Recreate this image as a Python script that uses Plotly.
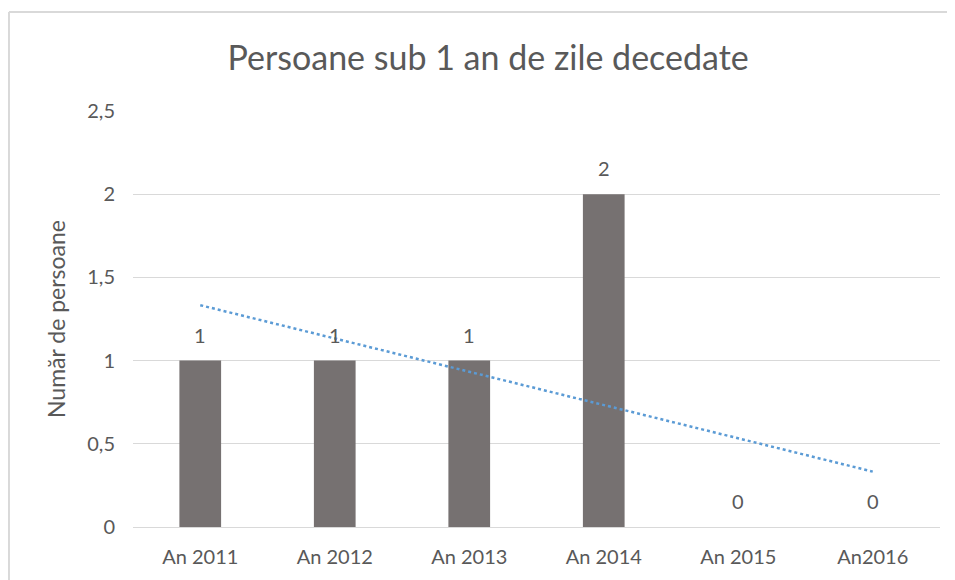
import plotly.graph_objects as go

categories = ["An 2011", "An 2012", "An 2013", "An 2014", "An 2015", "An2016"]
values = [1, 1, 1, 2, 0, 0]
trend_x = ["An 2011", "An2016"]
trend_y = [1.333, 0.333]
y_ticks = [0, 0.5, 1, 1.5, 2, 2.5]
y_tick_labels = ["0", "0,5", "1", "1,5", "2", "2,5"]

title_text = "Persoane sub 1 an de zile decedate"
y_title = "Număr de persoane"

FONT = "Lato"
TXT = "#595959"

fig = go.Figure()
fig.add_trace(go.Bar(
    x=categories, y=values,
    marker=dict(color="#767171", line=dict(width=0)),
    hoverinfo="skip",
))
fig.add_trace(go.Scatter(
    x=trend_x, y=trend_y, mode="lines",
    line=dict(color="#5B9BD5", width=2.5, dash="dot"),
    hoverinfo="skip",
))

for c, v in zip(categories, values):
    fig.add_annotation(x=c, y=v, text=str(v), showarrow=False,
                       yshift=26, font=dict(family=FONT, size=20, color=TXT))

# chart frame (left and top edges; the rest lies outside the picture)
fig.add_shape(type="line", xref="paper", yref="paper",
              x0=-0.1537, x1=-0.1537, y0=-0.3, y1=1.238,
              line=dict(color="#D9D9D9", width=2), layer="below")
fig.add_shape(type="line", xref="paper", yref="paper",
              x0=-0.1537, x1=1.1, y0=1.238, y1=1.238,
              line=dict(color="#D9D9D9", width=2), layer="below")

fig.update_layout(
    width=947, height=572,
    margin=dict(l=125, r=15, t=103, b=53),
    paper_bgcolor="white", plot_bgcolor="white",
    showlegend=False,
    bargap=0.69,
    title=dict(text=title_text, x=0.507, xanchor="center", y=0.9126, yanchor="middle",
               font=dict(family=FONT, size=34, color=TXT)),
    font=dict(family=FONT, color=TXT),
)
fig.update_xaxes(showgrid=False, showline=False, ticks="",
                 ticklabelstandoff=16,
                 tickfont=dict(family=FONT, size=20, color=TXT))
fig.update_yaxes(range=[0, 2.5], tickvals=y_ticks, ticktext=y_tick_labels,
                 showgrid=True, gridcolor="#D9D9D9", gridwidth=1,
                 zeroline=True, zerolinecolor="#D9D9D9", zerolinewidth=1,
                 showline=False, ticks="", ticklen=0,
                 ticklabelstandoff=17,
                 tickfont=dict(family=FONT, size=20, color=TXT),
                 title=dict(text=y_title, standoff=15,
                            font=dict(family=FONT, size=23, color=TXT)))

fig.write_html("out.html")
